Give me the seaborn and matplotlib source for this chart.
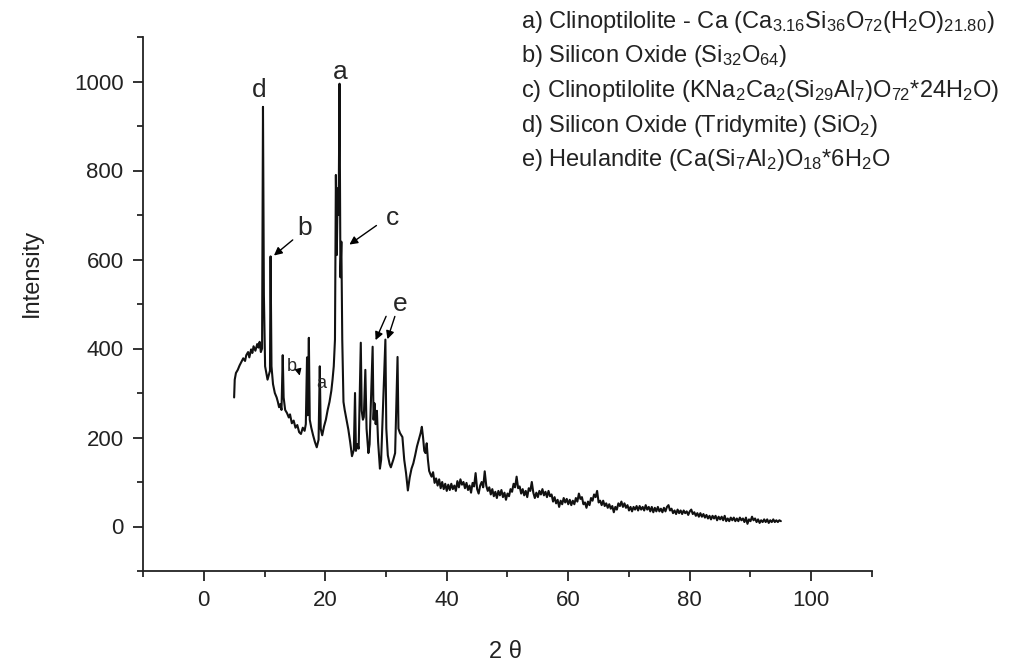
import matplotlib
matplotlib.use("Agg")
import matplotlib.pyplot as plt
import seaborn as sns
import pandas as pd
from matplotlib.ticker import FixedLocator

# ---------------- data ----------------
# peak region, 2-theta 5 .. 37.3
peak_theta = [
    5.0, 5.1, 5.3, 5.6, 5.9, 6.2, 6.5, 6.8, 7.0, 7.3, 7.5, 7.8, 8.0, 8.2, 8.5, 8.8, 9.0, 9.2, 9.4, 9.6,
    9.75, 9.9, 10.1, 10.3, 10.5, 10.7, 10.9, 11.0, 11.15, 11.4, 11.7, 12.0, 12.2, 12.4, 12.6, 12.8,
    13.0, 13.15, 13.4, 13.7, 14.0, 14.2, 14.5, 14.8, 15.1, 15.4, 15.7, 16.0, 16.3, 16.6, 16.8, 17.0,
    17.1, 17.3, 17.45, 17.7, 18.0, 18.3, 18.6, 18.9, 19.1, 19.25, 19.5, 19.8, 20.1, 20.4, 20.7, 21.0,
    21.2, 21.4, 21.6, 21.75, 21.9, 22.05, 22.2, 22.35, 22.5, 22.65, 22.8, 23.0, 23.2, 23.5, 23.8, 24.1,
    24.4, 24.7, 24.9, 25.05, 25.3, 25.5, 25.85, 26.0, 26.2, 26.35, 26.6, 26.8, 27.1, 27.3, 27.8, 27.95,
    28.1, 28.3, 28.5, 28.7, 29.0, 29.2, 29.9, 30.05, 30.3, 30.6, 30.8, 31.2, 31.5, 31.9, 32.05, 32.3,
    32.7, 33.0, 33.3, 33.6, 33.9, 34.2, 34.5, 34.8, 35.1, 35.4, 35.7, 35.9, 36.1, 36.3, 36.5, 36.7,
    36.9, 37.1, 37.3,
]
peak_int = [
    290, 330, 345, 352, 362, 370, 378, 372, 385, 392, 380, 398, 390, 405, 395, 410, 402, 415, 392, 400,
    943, 520, 360, 345, 330, 340, 350, 607, 360, 320, 300, 290, 280, 268, 275, 262,
    385, 290, 262, 255, 245, 252, 232, 238, 222, 228, 212, 208, 222, 215, 230, 380,
    250, 424, 240, 222, 205, 190, 178, 195, 360, 220, 205, 225, 240, 262, 280, 305,
    330, 360, 420, 790, 610, 760, 700, 995, 560, 640, 420, 280, 262, 240, 218, 190,
    158, 172, 300, 170, 185, 175, 413, 260, 240, 246, 352, 220, 165, 185, 404, 240,
    277, 230, 260, 190, 130, 150, 420, 220, 160, 140, 133, 150, 165, 381, 220, 210,
    201, 150, 120, 81, 110, 130, 142, 160, 180, 195, 210, 224, 200, 170, 165, 187,
    150, 125, 118,
]
# noisy background, 2-theta 37.5 .. 95
base_theta = [
    37.50, 37.75, 38.00, 38.25, 38.50, 38.75, 39.00, 39.25, 39.50, 39.75,
    40.00, 40.25, 40.50, 40.75, 41.00, 41.25, 41.50, 41.75, 42.00, 42.25,
    42.50, 42.75, 43.00, 43.25, 43.50, 43.75, 44.00, 44.25, 44.50, 44.75,
    45.00, 45.25, 45.50, 45.75, 46.00, 46.25, 46.50, 46.75, 47.00, 47.25,
    47.50, 47.75, 48.00, 48.25, 48.50, 48.75, 49.00, 49.25, 49.50, 49.75,
    50.00, 50.25, 50.50, 50.75, 51.00, 51.25, 51.50, 51.75, 52.00, 52.25,
    52.50, 52.75, 53.00, 53.25, 53.50, 53.75, 54.00, 54.25, 54.50, 54.75,
    55.00, 55.25, 55.50, 55.75, 56.00, 56.25, 56.50, 56.75, 57.00, 57.25,
    57.50, 57.75, 58.00, 58.25, 58.50, 58.75, 59.00, 59.25, 59.50, 59.75,
    60.00, 60.25, 60.50, 60.75, 61.00, 61.25, 61.50, 61.75, 62.00, 62.25,
    62.50, 62.75, 63.00, 63.25, 63.50, 63.75, 64.00, 64.25, 64.50, 64.75,
    65.00, 65.25, 65.50, 65.75, 66.00, 66.25, 66.50, 66.75, 67.00, 67.25,
    67.50, 67.75, 68.00, 68.25, 68.50, 68.75, 69.00, 69.25, 69.50, 69.75,
    70.00, 70.25, 70.50, 70.75, 71.00, 71.25, 71.50, 71.75, 72.00, 72.25,
    72.50, 72.75, 73.00, 73.25, 73.50, 73.75, 74.00, 74.25, 74.50, 74.75,
    75.00, 75.25, 75.50, 75.75, 76.00, 76.25, 76.50, 76.75, 77.00, 77.25,
    77.50, 77.75, 78.00, 78.25, 78.50, 78.75, 79.00, 79.25, 79.50, 79.75,
    80.00, 80.25, 80.50, 80.75, 81.00, 81.25, 81.50, 81.75, 82.00, 82.25,
    82.50, 82.75, 83.00, 83.25, 83.50, 83.75, 84.00, 84.25, 84.50, 84.75,
    85.00, 85.25, 85.50, 85.75, 86.00, 86.25, 86.50, 86.75, 87.00, 87.25,
    87.50, 87.75, 88.00, 88.25, 88.50, 88.75, 89.00, 89.25, 89.50, 89.75,
    90.00, 90.25, 90.50, 90.75, 91.00, 91.25, 91.50, 91.75, 92.00, 92.25,
    92.50, 92.75, 93.00, 93.25, 93.50, 93.75, 94.00, 94.25, 94.50, 94.75,
    95.00,
]
base_int = [
    112, 122, 98, 108, 92, 106, 86, 100, 84, 96,
    80, 94, 82, 96, 84, 92, 80, 102, 88, 106,
    94, 100, 86, 98, 82, 92, 76, 98, 90, 120,
    84, 74, 92, 100, 88, 124, 92, 80, 88, 72,
    84, 68, 78, 64, 80, 70, 82, 66, 76, 60,
    74, 68, 84, 78, 96, 88, 112, 86, 90, 74,
    84, 70, 80, 66, 86, 80, 100, 76, 64, 76,
    66, 80, 72, 84, 70, 78, 66, 80, 68, 72,
    56, 66, 52, 60, 44, 58, 50, 64, 54, 62,
    50, 60, 48, 58, 50, 64, 56, 74, 62, 66,
    50, 54, 42, 56, 48, 64, 58, 72, 66, 80,
    54, 58, 48, 58, 46, 52, 42, 50, 40, 46,
    32, 44, 38, 52, 46, 56, 44, 52, 42, 48,
    36, 44, 34, 44, 38, 46, 36, 46, 38, 44,
    36, 48, 38, 44, 34, 44, 32, 42, 34, 44,
    34, 40, 32, 42, 34, 44, 48, 36, 40, 30,
    36, 28, 38, 30, 36, 28, 36, 30, 34, 26,
    34, 38, 28, 32, 24, 30, 22, 30, 22, 28,
    20, 26, 18, 24, 16, 24, 18, 24, 14, 22,
    16, 22, 14, 24, 12, 18, 12, 20, 14, 20,
    12, 18, 12, 20, 14, 18, 10, 20, 6, 16,
    12, 22, 14, 18, 10, 16, 8, 14, 10, 16,
    10, 16, 8, 14, 10, 16, 10, 14, 10, 14,
    12,
]

phase_lines = [
    r"a) Clinoptilolite - Ca (Ca$_{3.16}$Si$_{36}$O$_{72}$(H$_2$O)$_{21.80}$)",
    r"b) Silicon Oxide (Si$_{32}$O$_{64}$)",
    r"c) Clinoptilolite (KNa$_2$Ca$_2$(Si$_{29}$Al$_7$)O$_{72}$*24H$_2$O)",
    r"d) Silicon Oxide (Tridymite) (SiO$_2$)",
    r"e) Heulandite (Ca(Si$_7$Al$_2$)O$_{18}$*6H$_2$O",
]

x_major = [0, 20, 40, 60, 80, 100]
x_minor = [-10, 10, 30, 50, 70, 90, 110]
y_major = [0, 200, 400, 600, 800, 1000]
y_minor = [-100, 100, 300, 500, 700, 900, 1100]

# ---------------- style ----------------
sns.set_style("ticks")
plt.rcParams["font.family"] = ["Liberation Sans", "DejaVu Sans"]
plt.rcParams["mathtext.default"] = "regular"

df = pd.DataFrame({"two_theta": peak_theta + base_theta,
                   "intensity": peak_int + base_int})

fig = plt.figure(figsize=(10.09, 6.64), dpi=100)
ax = fig.add_axes([143 / 1009, 1 - 571 / 664, (872 - 143) / 1009, (571 - 37) / 664])

sns.lineplot(data=df, x="two_theta", y="intensity", ax=ax, color="#111111",
             linewidth=1.5, sort=False, estimator=None)

ax.set_xlim(-10, 110)
ax.set_ylim(-100, 1100)
ax.xaxis.set_major_locator(FixedLocator(x_major))
ax.xaxis.set_minor_locator(FixedLocator(x_minor))
ax.yaxis.set_major_locator(FixedLocator(y_major))
ax.yaxis.set_minor_locator(FixedLocator(y_minor))
ax.tick_params(axis="both", which="major", direction="out", length=7, width=1.3,
               labelsize=16, colors="#222222", pad=7)
ax.tick_params(axis="both", which="minor", direction="out", length=4, width=1.3)
sns.despine(ax=ax)
for s in ("left", "bottom"):
    ax.spines[s].set_linewidth(1.3)
    ax.spines[s].set_color("#222222")

ax.set_xlabel("2 θ", fontsize=17, color="#222222")
ax.set_ylabel("Intensity", fontsize=17, color="#222222")
ax.xaxis.set_label_coords((505 - 143) / 729, (571 - 641) / 534)
ax.yaxis.set_label_coords((43 - 143) / 729, (571 - 273) / 534)

# peak labels
ax.text(9.2, 980, "d", fontsize=19, ha="center", va="center")
ax.text(22.4, 1022, "a", fontsize=19, ha="center", va="center")
ax.text(16.6, 670, "b", fontsize=19, ha="center", va="center")
ax.text(31.0, 694, "c", fontsize=19, ha="center", va="center")
ax.text(32.3, 499, "e", fontsize=19, ha="center", va="center")
ax.text(14.5, 360, "b", fontsize=13, ha="center", va="center")
ax.text(19.3, 322, "a", fontsize=13, ha="center", va="center")

arrow = dict(arrowstyle="-|>", color="black", lw=1.0, mutation_scale=12)
ax.annotate("", xy=(11.2, 605), xytext=(15.0, 648), arrowprops=arrow)
ax.annotate("", xy=(23.6, 630), xytext=(28.8, 680), arrowprops=arrow)
ax.annotate("", xy=(28.1, 413), xytext=(30.2, 478), arrowprops=arrow)
ax.annotate("", xy=(30.1, 415), xytext=(31.6, 478), arrowprops=arrow)
ax.annotate("", xy=(15.9, 333), xytext=(15.6, 350),
            arrowprops=dict(arrowstyle="-|>", color="black", lw=0.8, mutation_scale=10))

# phase list
y_px = [22, 56, 91, 126, 160]
for txt, yp in zip(phase_lines, y_px):
    fig.text(521 / 1009, 1 - yp / 664, txt, fontsize=17, ha="left", va="center", color="#222222")

fig.savefig("out.png", dpi=100)
